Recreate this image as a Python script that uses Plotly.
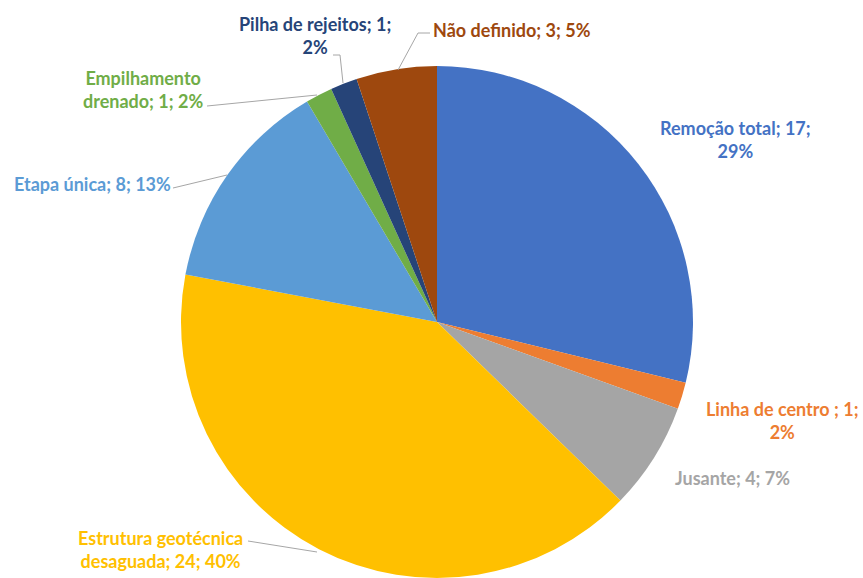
import plotly.graph_objects as go

W, H = 863, 578

categories = [
    "Remoção total",
    "Linha de centro ",
    "Jusante",
    "Estrutura geotécnica desaguada",
    "Etapa única",
    "Empilhamento drenado",
    "Pilha de rejeitos",
    "Não definido",
]
values = [17, 1, 4, 24, 8, 1, 1, 3]
percent_labels = ["29%", "2%", "7%", "40%", "13%", "2%", "2%", "5%"]
colors = ["#4472C4", "#ED7D31", "#A5A5A5", "#FFC000",
          "#5B9BD5", "#70AD47", "#264478", "#9E480E"]

# label text (with Excel-style line breaks) and where each sits, in pixels
label_text = [
    f"{categories[0]}; {values[0]};<br>{percent_labels[0]}",
    f"{categories[1]}; {values[1]};<br>{percent_labels[1]}",
    f"{categories[2]}; {values[2]}; {percent_labels[2]}",
    f"Estrutura geotécnica<br>desaguada; {values[3]}; {percent_labels[3]}",
    f"{categories[4]}; {values[4]}; {percent_labels[4]}",
    f"Empilhamento<br>drenado; {values[5]}; {percent_labels[5]}",
    f"{categories[6]}; {values[6]};<br>{percent_labels[6]}",
    f"{categories[7]}; {values[7]}; {percent_labels[7]}",
]
label_pos = [(735, 140), (782, 421), (732, 478), (160, 549),
             (92, 184), (143, 89), (315, 36), (512, 30)]
leaders = {
    3: [(248, 541), (317, 552)],
    4: [(173, 188), (227, 175)],
    5: [(207, 106), (317, 95)],
    6: [(333, 55), (340, 55), (343, 83)],
    7: [(430, 33), (418, 33), (398, 70)],
}


def px(x, y):
    return x / W, 1 - y / H


cx, r = 437, 256
fig = go.Figure(
    go.Pie(
        labels=categories,
        values=values,
        sort=False,
        direction="clockwise",
        rotation=0,
        marker=dict(colors=colors, line=dict(width=0)),
        textinfo="none",
        hoverinfo="label+value+percent",
        domain=dict(x=[(cx - r) / W, (cx + r) / W], y=[0, 1 - 66 / H]),
        showlegend=False,
    )
)

for i, txt in enumerate(label_text):
    x, y = px(*label_pos[i])
    fig.add_annotation(
        x=x, y=y, xref="paper", yref="paper", text=f"<b>{txt}</b>",
        xanchor="center", yanchor="middle",
        showarrow=False, align="center",
        font=dict(family="Lato", size=18, color=colors[i]),
    )

for i, pts in leaders.items():
    path = ""
    for j, p in enumerate(pts):
        x, y = px(*p)
        path += ("M" if j == 0 else "L") + f"{x},{y} "
    fig.add_shape(type="path", path=path, xref="paper", yref="paper",
                  line=dict(color="#A6A6A6", width=1))

fig.update_layout(
    width=W, height=H,
    margin=dict(l=0, r=0, t=0, b=0),
    paper_bgcolor="white",
)

fig.write_html("out.html", config={"displayModeBar": False},
               post_script="document.body.style.margin='0';")
